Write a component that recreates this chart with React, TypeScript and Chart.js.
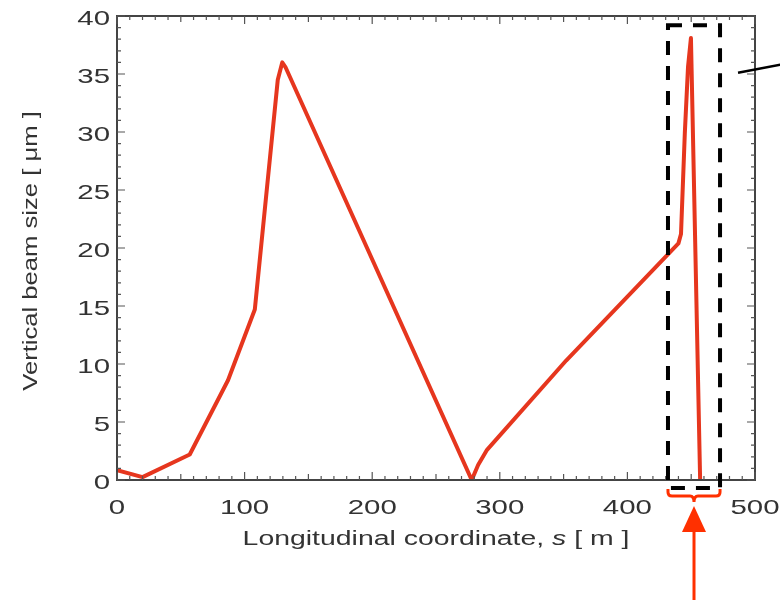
import React, { useEffect, useRef } from 'react';
import { Chart, registerables } from 'chart.js';

Chart.register(...registerables);

// Longitudinal coordinate s [m]
const sPositions = [0, 20, 57, 87, 108, 126, 129.5, 132, 278, 283, 290, 352, 440, 442, 445, 447.5, 449.8, 457];
// Vertical beam size [um]
const beamSize = [0.85, 0.25, 2.2, 8.6, 14.7, 34.5, 36.0, 35.6, 0, 1.3, 2.6, 10.3, 20.4, 21.2, 29.9, 35.6, 38.1, 0];

const xTickValues = [0, 100, 200, 300, 400, 500];
const yTickValues = [0, 5, 10, 15, 20, 25, 30, 35, 40];
const xMinorStep = 10;
const yMinorStep = 1;

const xTitleParts = [
  { text: 'Longitudinal coordinate, ', italic: false },
  { text: 's', italic: true },
  { text: ' [ m ]', italic: false },
];
const yTitle = 'Vertical beam size [ \u03bcm ]';

// highlighted region (data units)
const boxS = [431.8, 472.6];
const boxY = [-0.7, 39.2];
// pointer line (data units)
const pointerS = [486.7, 524];
const pointerY = [35.1, 35.9];

const TEXT = '#333';
const FONT = '"Liberation Sans", Arial, Helvetica, sans-serif';

function stretchedText(ctx: CanvasRenderingContext2D, text: string, x: number, y: number, align: CanvasTextAlign, sx: number, font: string) {
  ctx.save();
  ctx.font = font;
  ctx.translate(x, y);
  ctx.scale(sx, 1);
  ctx.textAlign = align;
  ctx.fillText(text, 0, 0);
  ctx.restore();
}

const decorPlugin = {
  id: 'decor',
  afterDraw(chart: any) {
    const ctx: CanvasRenderingContext2D = chart.ctx;
    const { left, right, top, bottom } = chart.chartArea;
    const xs = chart.scales.x;
    const ys = chart.scales.y;
    ctx.save();
    // frame
    ctx.strokeStyle = '#444';
    ctx.lineWidth = 2;
    ctx.strokeRect(left, top, right - left, bottom - top);
    // ticks
    ctx.lineWidth = 1.2;
    ctx.strokeStyle = '#555';
    ctx.beginPath();
    for (let v = 0; v <= 500 + 1e-6; v += xMinorStep) {
      const px = xs.getPixelForValue(v);
      const len = v % 100 === 0 ? 8 : v % 50 === 0 ? 6 : 4;
      ctx.moveTo(px, bottom); ctx.lineTo(px, bottom - len);
      ctx.moveTo(px, top); ctx.lineTo(px, top + len);
    }
    for (let v = 0; v <= 40 + 1e-6; v += yMinorStep) {
      const py = ys.getPixelForValue(v);
      const len = v % 5 === 0 ? 8 : 4;
      ctx.moveTo(left, py); ctx.lineTo(left + len, py);
      ctx.moveTo(right, py); ctx.lineTo(right - len, py);
    }
    ctx.stroke();

    // tick labels
    ctx.fillStyle = TEXT;
    ctx.textBaseline = 'middle';
    const tickFont = `21px ${FONT}`;
    xTickValues.forEach((v) => {
      stretchedText(ctx, String(v), xs.getPixelForValue(v), bottom + 28, 'center', 1.4, tickFont);
    });
    yTickValues.forEach((v) => {
      stretchedText(ctx, String(v), left - 7, ys.getPixelForValue(v) + 3, 'right', 1.4, tickFont);
    });

    // x title
    ctx.textBaseline = 'alphabetic';
    const sx = 1.42;
    const fontN = `20px ${FONT}`;
    const fontI = `italic 20px ${FONT}`;
    let total = 0;
    const widths = xTitleParts.map((p) => {
      ctx.font = p.italic ? fontI : fontN;
      const w = ctx.measureText(p.text).width * sx;
      total += w;
      return w;
    });
    let cx = (left + right) / 2 - total / 2;
    xTitleParts.forEach((p, i) => {
      stretchedText(ctx, p.text, cx, 545, 'left', sx, p.italic ? fontI : fontN);
      cx += widths[i];
    });

    // y title
    ctx.save();
    ctx.translate(37, (top + bottom) / 2 + 3);
    ctx.rotate(-Math.PI / 2);
    ctx.font = `21px ${FONT}`;
    ctx.scale(1.22, 1);
    ctx.textAlign = 'center';
    ctx.fillText(yTitle, 0, 0);
    ctx.restore();

    // dashed highlight box
    const bx0 = xs.getPixelForValue(boxS[0]);
    const bx1 = xs.getPixelForValue(boxS[1]);
    const by0 = ys.getPixelForValue(boxY[1]);
    const by1 = ys.getPixelForValue(boxY[0]);
    ctx.strokeStyle = '#000';
    ctx.lineWidth = 4;
    ctx.setLineDash([14, 11]);
    ctx.strokeRect(bx0, by0, bx1 - bx0, by1 - by0);
    ctx.setLineDash([]);

    // brace
    const red = '#ff3000';
    const mid = (bx0 + bx1) / 2;
    ctx.strokeStyle = red;
    ctx.lineWidth = 3;
    const bTop = by1 + 1;
    const bLevel = by1 + 8;
    const r = 4;
    ctx.beginPath();
    ctx.moveTo(bx0, bTop);
    ctx.lineTo(bx0, bLevel - r);
    ctx.quadraticCurveTo(bx0, bLevel, bx0 + r, bLevel);
    ctx.lineTo(mid - r, bLevel);
    ctx.quadraticCurveTo(mid, bLevel, mid, bLevel + r + 2);
    ctx.quadraticCurveTo(mid, bLevel, mid + r, bLevel);
    ctx.lineTo(bx1 - r, bLevel);
    ctx.quadraticCurveTo(bx1, bLevel, bx1, bLevel - r);
    ctx.lineTo(bx1, bTop);
    ctx.stroke();

    // arrow
    const tipY = bLevel + 10;
    const baseY = tipY + 26;
    ctx.fillStyle = red;
    ctx.beginPath();
    ctx.moveTo(mid, tipY);
    ctx.lineTo(mid - 12, baseY);
    ctx.lineTo(mid + 12, baseY);
    ctx.closePath();
    ctx.fill();
    ctx.beginPath();
    ctx.moveTo(mid, baseY - 2);
    ctx.lineTo(mid, chart.height + 5);
    ctx.stroke();

    // pointer line
    ctx.strokeStyle = '#000';
    ctx.lineWidth = 2.5;
    ctx.beginPath();
    ctx.moveTo(xs.getPixelForValue(pointerS[0]), ys.getPixelForValue(pointerY[0]));
    ctx.lineTo(xs.getPixelForValue(pointerS[1]), ys.getPixelForValue(pointerY[1]));
    ctx.stroke();
    ctx.restore();
  },
};

const bgPlugin = {
  id: 'bg',
  beforeDraw(chart: any) {
    const ctx = chart.ctx;
    ctx.save();
    ctx.fillStyle = '#fff';
    ctx.fillRect(0, 0, chart.width, chart.height);
    ctx.restore();
  },
};

export default function App() {
  const ref = useRef<HTMLCanvasElement | null>(null);
  useEffect(() => {
    if (!ref.current) return;
    const chart = new Chart(ref.current, {
      type: 'line',
      data: {
        datasets: [
          {
            data: sPositions.map((s, i) => ({ x: s, y: beamSize[i] })),
            borderColor: '#e6361e',
            borderWidth: 4,
            pointRadius: 0,
            tension: 0,
            borderJoinStyle: 'round',
            borderCapStyle: 'butt',
            fill: false,
          },
        ],
      },
      options: {
        animation: false,
        responsive: false,
        devicePixelRatio: 1,
        layout: { padding: { left: 117, top: 16, right: 25, bottom: 120 } },
        plugins: { legend: { display: false }, tooltip: { enabled: false } },
        scales: {
          x: { type: 'linear', min: 0, max: 500, display: false },
          y: { type: 'linear', min: 0, max: 40, display: false },
        },
      },
      plugins: [bgPlugin, decorPlugin],
    });
    return () => chart.destroy();
  }, []);
  return (
    <div style={{ position: 'absolute', left: 0, top: 0, width: 780, height: 600 }}>
      <canvas ref={ref} width={780} height={600} />
    </div>
  );
}
